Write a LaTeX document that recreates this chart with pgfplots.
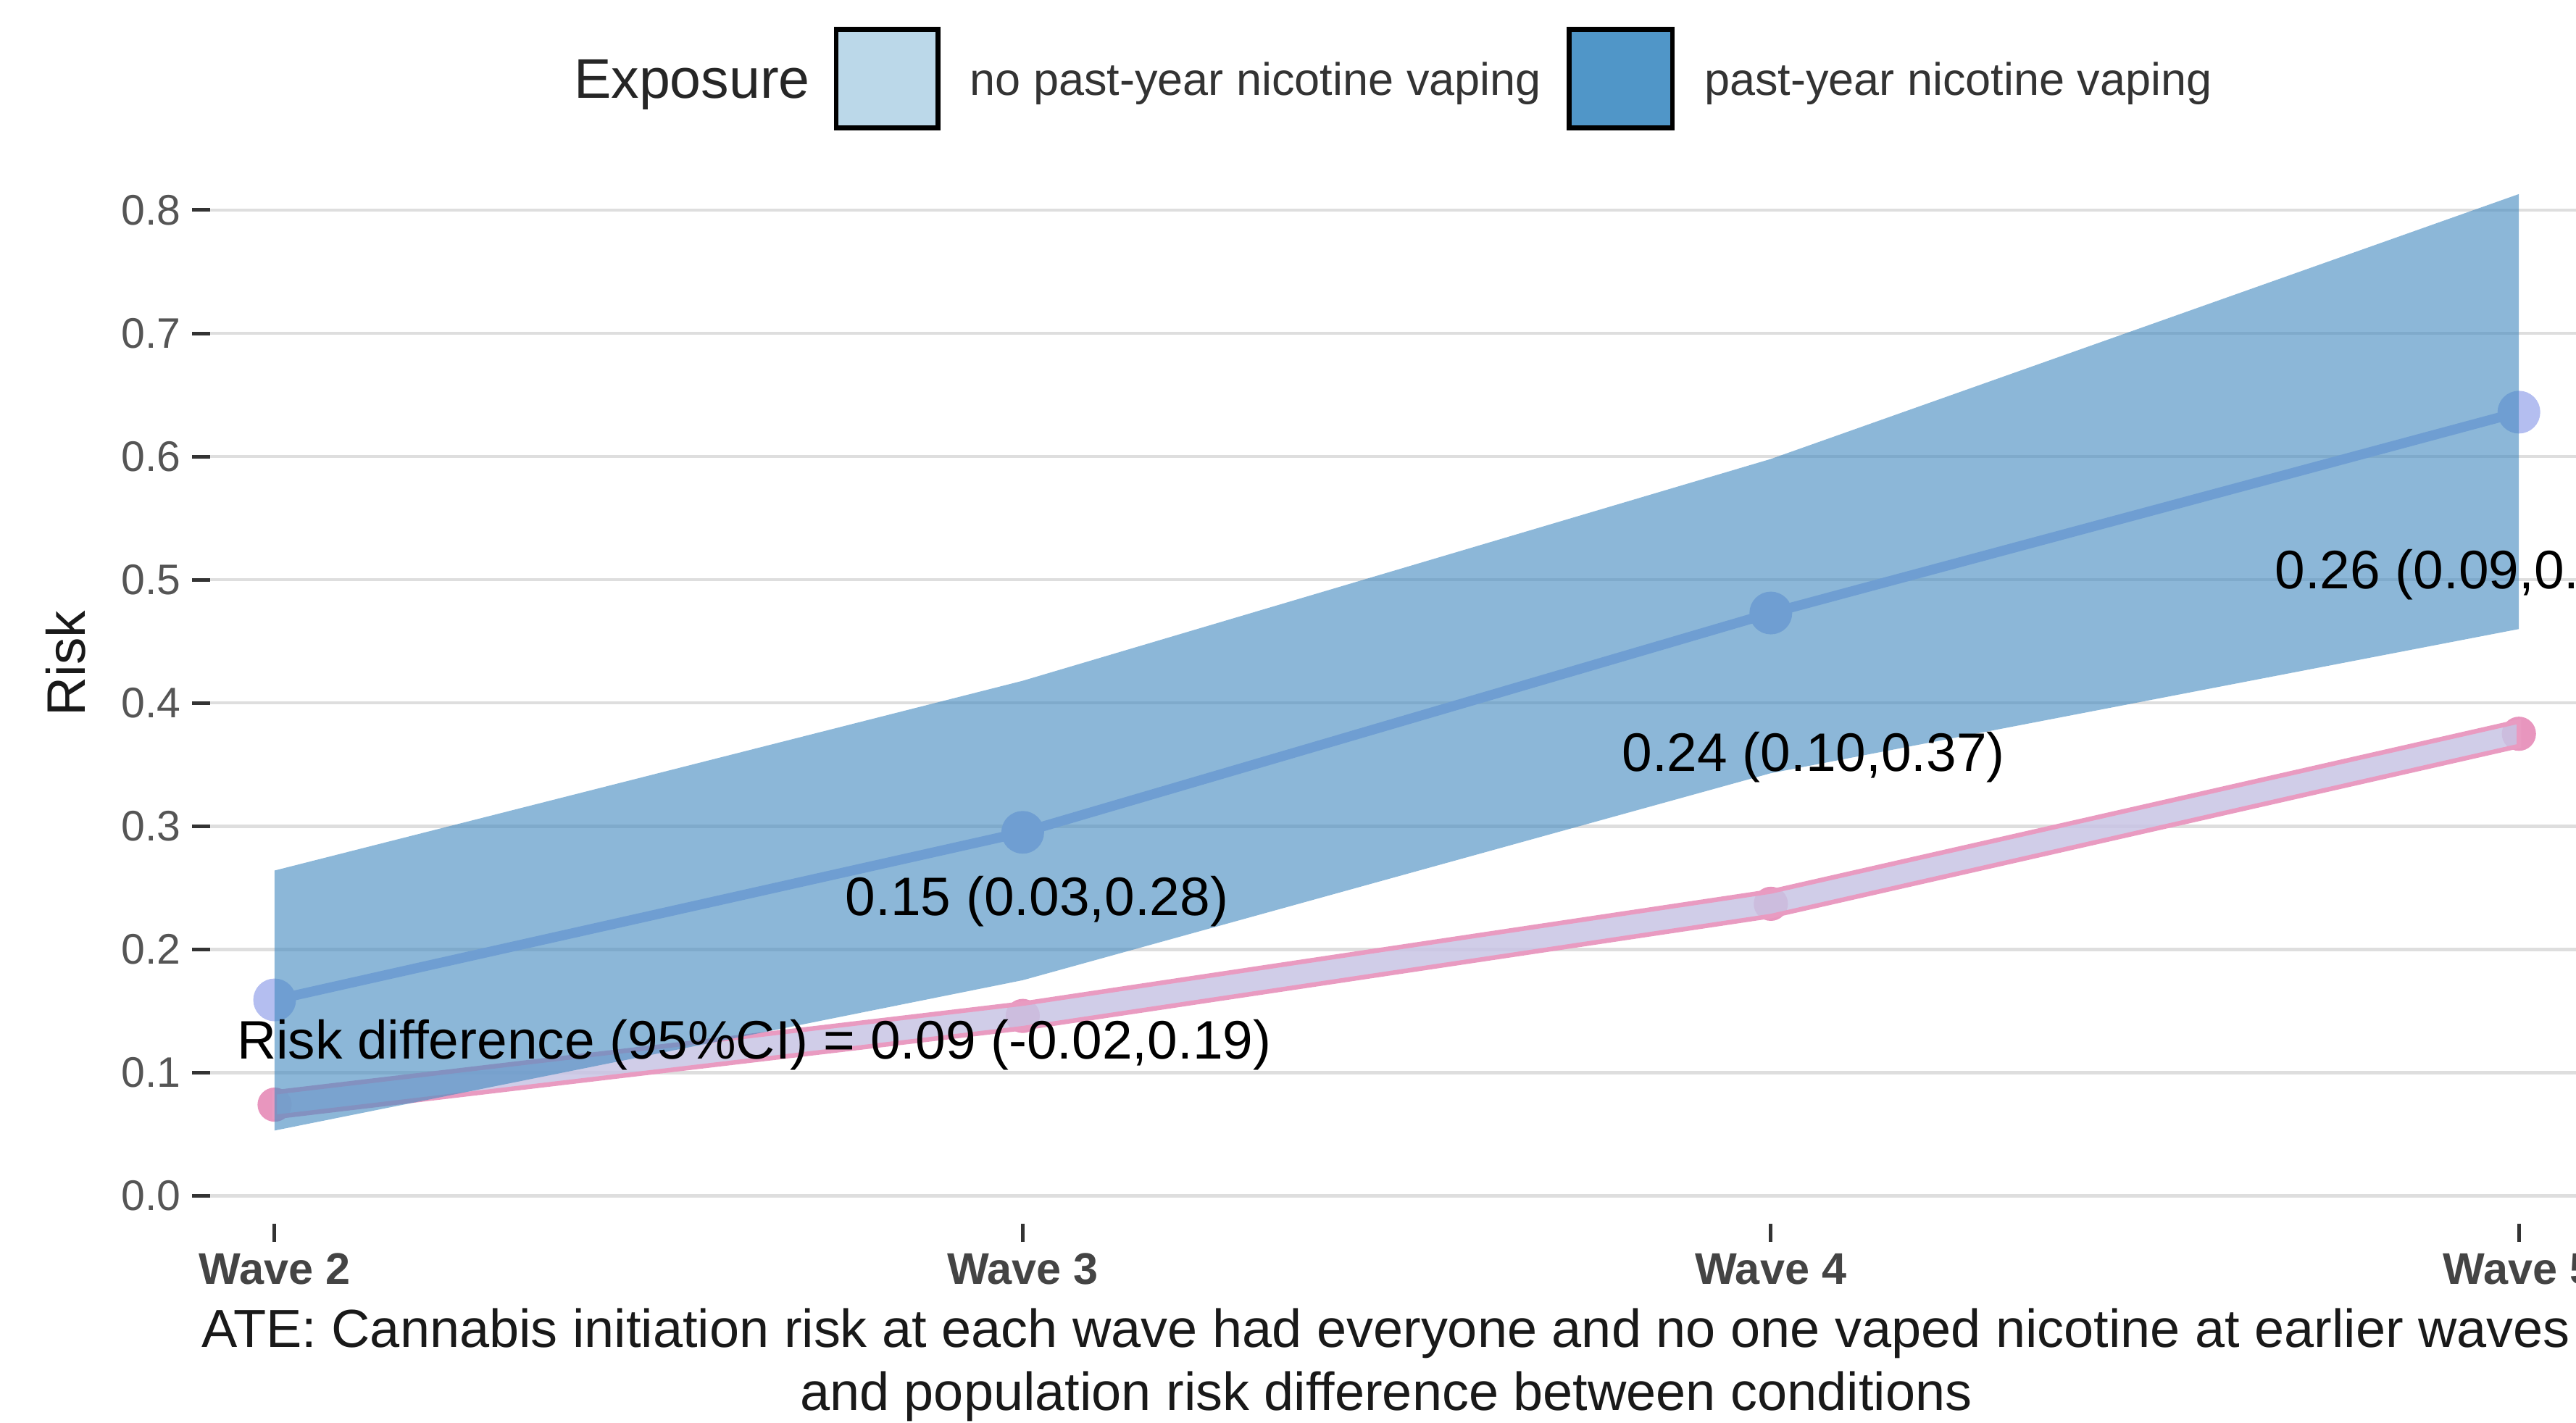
\documentclass[border=0pt]{standalone}
\usepackage{pgfplots}
\pgfplotsset{compat=1.18}
\usepackage{fontspec}
\setmainfont{Liberation Sans}

\definecolor{gridc}{HTML}{DEDEDE}
\definecolor{tickc}{HTML}{333333}
\definecolor{ylab}{HTML}{555555}
\definecolor{xlab}{HTML}{444444}
\definecolor{bandc}{HTML}{458BC0}
\definecolor{lavc}{HTML}{B4BEF0}
\definecolor{ribc}{HTML}{C8C4E4}
\definecolor{pinkc}{HTML}{E99BC1}
\definecolor{pinkpt}{HTML}{E896BE}
\definecolor{legl}{HTML}{BBD8E9}
\definecolor{legd}{HTML}{5096C8}

\begin{document}
\begin{tikzpicture}[x=1pt,y=1pt]
\useasboundingbox (0,0) rectangle (784,433);
\clip (0,0) rectangle (784,433);
\begin{axis}[
  at={(64pt,60.5pt)}, anchor=south west,
  scale only axis, width=722.2pt, height=327.3pt,
  xmin=1.914, xmax=5.086, ymin=-0.0227, ymax=0.85,
  clip=false, clip marker paths=true,
  axis line style={draw=none},
  tick pos=left, tick align=outside, major tick length=5.5pt,
  tick style={draw=tickc, line width=1.1pt},
  xtick={2,3,4,5}, xticklabels={Wave 2,Wave 3,Wave 4,Wave 5},
  ytick={0,0.1,0.2,0.3,0.4,0.5,0.6,0.7,0.8},
  yticklabels={0.0,0.1,0.2,0.3,0.4,0.5,0.6,0.7,0.8},
  ymajorgrids, major grid style={draw=gridc, line width=1pt},
  xticklabel style={font=\fontsize{13.5}{16}\selectfont\bfseries, text=xlab},
  yticklabel style={font=\fontsize{13}{15}\selectfont, text=ylab},
  ylabel={Risk},
  ylabel style={at={(axis description cs:-0.0609,0.521)}, anchor=center, font=\fontsize{16.5}{19}\selectfont, text=black!90},
  xlabel={ATE: Cannabis initiation risk at each wave had everyone and no one vaped nicotine at earlier waves\\and population risk difference between conditions},
  xlabel style={at={(axis description cs:0.4955,-0.1313)}, anchor=center, align=center, font=\fontsize{16.3}{19}\selectfont, text=black!90},
]
% no past-year vaping: points, then ribbon
\addplot[only marks, mark=*, mark size=5pt, color=pinkpt]
  coordinates {(2,0.074) (3,0.146) (4,0.237) (5,0.375)};
\addplot[fill=ribc, fill opacity=0.85, draw=pinkc, line width=1.4pt]
  coordinates {(2,0.064) (3,0.136) (4,0.227) (5,0.365) (5,0.385) (4,0.247) (3,0.156) (2,0.084)} -- cycle;
% past-year vaping: line and points
\addplot[lavc, line width=3pt, mark=*, mark size=5pt, mark options={fill=lavc, draw=lavc}]
  coordinates {(2,0.159) (3,0.295) (4,0.473) (5,0.636)};
% confidence band on top
\addplot[fill=bandc, fill opacity=0.62, draw=none]
  coordinates {(2,0.053) (3,0.175) (4,0.343) (5,0.460) (5,0.813) (4,0.598) (3,0.418) (2,0.264)} -- cycle;
% annotations
\node[font=\fontsize{16.5}{19}\selectfont, inner sep=0] at (axis cs:2.641,0.1227) {Risk difference (95\%CI) = 0.09 (-0.02,0.19)};
\node[font=\fontsize{16.5}{19}\selectfont, inner sep=0] at (axis cs:3.019,0.2387) {0.15 (0.03,0.28)};
\node[font=\fontsize{16.5}{19}\selectfont, inner sep=0] at (axis cs:4.057,0.356) {0.24 (0.10,0.37)};
\node[font=\fontsize{16.5}{19}\selectfont, inner sep=0, anchor=west] at (axis cs:4.673,0.504) {0.26 (0.09,0.43)};
\end{axis}
% legend
\node[anchor=base west, font=\fontsize{17}{20}\selectfont, text=black!85, inner sep=0] at (174.5,403) {Exposure};
\draw[fill=legl, draw=black, line width=1.5pt] (254.5,394) rectangle (285.5,424);
\node[anchor=base west, font=\fontsize{13.9}{16}\selectfont, text=black!80, inner sep=0] at (295,404) {no past-year nicotine vaping};
\draw[fill=legd, draw=black, line width=1.5pt] (477.5,394) rectangle (509,424);
\node[anchor=base west, font=\fontsize{13.9}{16}\selectfont, text=black!80, inner sep=0] at (518.5,404) {past-year nicotine vaping};
\end{tikzpicture}
\end{document}
